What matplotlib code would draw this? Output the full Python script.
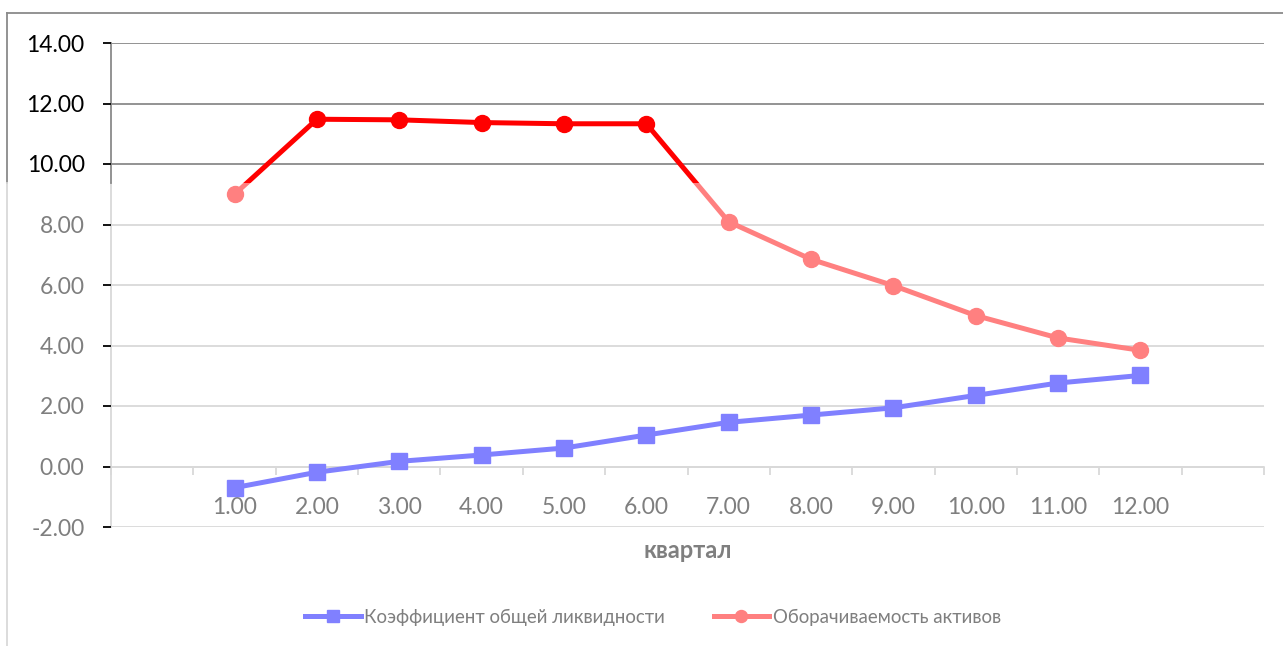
import matplotlib
matplotlib.use("Agg")
import matplotlib.pyplot as plt
from matplotlib.patches import Rectangle
from matplotlib.lines import Line2D

plt.rcParams['font.family'] = ['Lato', 'Noto Sans', 'DejaVu Sans']

# quarterly indicators
quarters = [1, 2, 3, 4, 5, 6, 7, 8, 9, 10, 11, 12]
liquidity = [-0.70, -0.19, 0.17, 0.38, 0.61, 1.04, 1.46, 1.70, 1.94, 2.35, 2.76, 3.01]
turnover = [9.00, 11.48, 11.46, 11.37, 11.33, 11.33, 8.09, 6.85, 5.98, 4.99, 4.25, 3.84]
yticks = [-2, 0, 2, 4, 6, 8, 10, 12, 14]
series_names = ['Коэффициент общей ликвидности', 'Оборачиваемость активов']
x_title = 'квартал'

W, H = 1283, 646
BAND = 9.37          # above this level the chart is drawn in the darker palette

GRAY_TXT = '#7f7f7f'
LIGHT = '#d9d9d9'
DARK = '#8a8a8a'
BLUE = '#8080ff'
PINK = '#ff8080'
RED = '#ff0000'

fig = plt.figure(figsize=(W / 100, H / 100), dpi=100)
ax = fig.add_axes([111 / W, (H - 527) / H, 1153 / W, 484 / H])
ax.set_xlim(-0.5, 13.5)
ax.set_ylim(-2, 14)

for s in ['top', 'right', 'left']:
    ax.spines[s].set_visible(False)
ax.spines['bottom'].set_position(('data', 0))
ax.spines['bottom'].set_color(LIGHT)
ax.spines['bottom'].set_linewidth(1.2)

# horizontal grid
for v in yticks:
    ax.axhline(v, color=DARK if v > BAND else LIGHT, lw=1.3, zorder=0)

# y axis line, dark part on top
ax.plot([-0.5, -0.5], [-2, BAND], color=LIGHT, lw=1.3, clip_on=False, zorder=1)
ax.plot([-0.5, -0.5], [BAND, 14], color=DARK, lw=1.3, clip_on=False, zorder=1)

ax.set_yticks(yticks)
ax.set_yticklabels(['%.2f' % v for v in yticks])
ax.tick_params(axis='y', length=6, width=1.3, pad=13, labelsize=16.5)
for v, t, lab in zip(yticks, ax.yaxis.get_major_ticks(), ax.get_yticklabels()):
    dark = v > BAND
    t.tick1line.set_color(DARK if dark else LIGHT)
    lab.set_color('black' if dark else GRAY_TXT)

ax.set_xticks(quarters)
ax.set_xticklabels(['%.2f' % q for q in quarters])
ax.set_xticks([i - 0.5 for i in range(15)], minor=True)
ax.tick_params(axis='x', which='major', length=0, pad=22, labelsize=16.5, labelcolor=GRAY_TXT)
ax.tick_params(axis='x', which='minor', length=6, width=1.3, color=LIGHT)

top_clip = Rectangle((-1, BAND), 16, 20, transform=ax.transData)
bot_clip = Rectangle((-1, -10), 16, BAND + 10, transform=ax.transData)

ax.plot(quarters, liquidity, color=BLUE, lw=3.6, marker='s', ms=12,
        label=series_names[0], zorder=3)
pink, = ax.plot(quarters, turnover, color=PINK, lw=3.6, marker='o', ms=11.5,
                label=series_names[1], zorder=3)
pink.set_clip_path(bot_clip)
red, = ax.plot(quarters, turnover, color=RED, lw=3.6, marker='o', ms=11.5, zorder=3)
red.set_clip_path(top_clip)

fig.text(688 / W, 1 - 550 / H, x_title, ha='center', va='center',
         fontsize=17, fontweight='bold', color=GRAY_TXT)

ax.legend(loc='center', bbox_to_anchor=(653 / W, 1 - 617 / H),
          bbox_transform=fig.transFigure, ncol=2, frameon=False,
          fontsize=13.4, labelcolor=GRAY_TXT, handlelength=3,
          handletextpad=0.2, columnspacing=2.6, markerscale=0.75)

# chart frame
fig.add_artist(Line2D([7 / W, 1], [1 - 13 / H] * 2, color=DARK, lw=1.3))
fig.add_artist(Line2D([7 / W] * 2, [1 - 13 / H, 1 - 183 / H], color=DARK, lw=1.3))
fig.add_artist(Line2D([7 / W] * 2, [1 - 183 / H, 0], color=LIGHT, lw=1.3))

fig.savefig('out.png', dpi=100)
